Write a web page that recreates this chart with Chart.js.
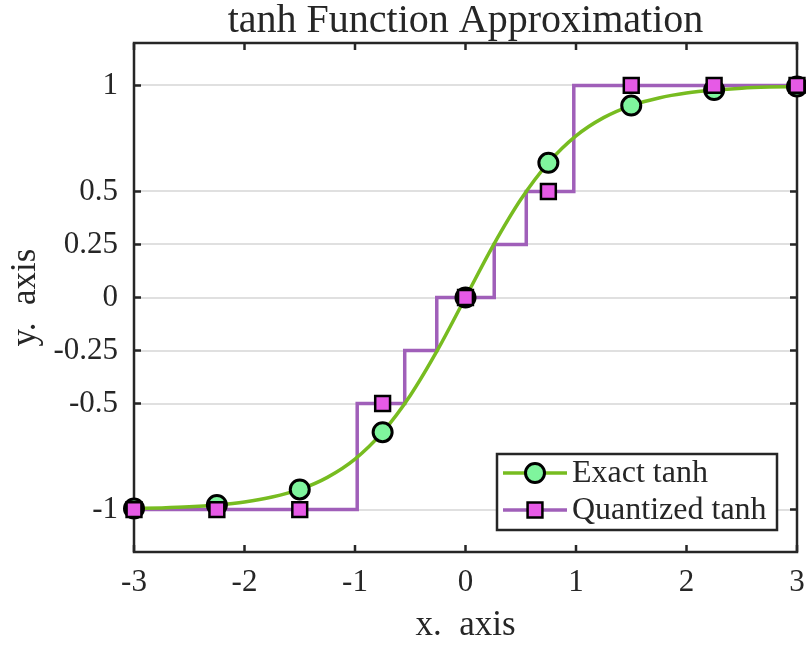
<!DOCTYPE html>
<html>
<head>
<meta charset="utf-8">
<title>tanh Function Approximation</title>
<script src="https://cdn.jsdelivr.net/npm/chart.js@4.4.0/dist/chart.umd.min.js"></script>
<style>
  html, body { margin: 0; padding: 0; background: #fff; }
  #chartCanvas { display: block; }
</style>
</head>
<body>
<canvas id="chartCanvas" width="806" height="645"></canvas>
<script>
// Smooth tanh curve samples
const curveX = [-3, -2.75, -2.5, -2.25, -2, -1.75, -1.5, -1.25, -1, -0.75, -0.5, -0.25, 0,
                0.25, 0.5, 0.75, 1, 1.25, 1.5, 1.75, 2, 2.25, 2.5, 2.75, 3];
const curveY = [-0.995, -0.992, -0.987, -0.978, -0.964, -0.941, -0.905, -0.848, -0.762, -0.635, -0.462, -0.245, 0,
                0.245, 0.462, 0.635, 0.762, 0.848, 0.905, 0.941, 0.964, 0.978, 0.987, 0.992, 0.995];

// Quantized staircase: each x starts a new level
const stepX = [-3, -0.98, -0.55, -0.26, 0.26, 0.55, 0.98, 3];
const stepY = [-1, -0.5, -0.25, 0, 0.25, 0.5, 1, 1];

// Marker positions
const markerX = [-3, -2.25, -1.5, -0.75, 0, 0.75, 1.5, 2.25, 3];
const exactMarkerY = [-0.995, -0.978, -0.905, -0.635, 0, 0.635, 0.905, 0.978, 0.995];
const quantMarkerY = [-1, -1, -1, -0.5, 0, 0.5, 1, 1, 1];

const yTickValues = [-1, -0.5, -0.25, 0, 0.25, 0.5, 1];
const seriesLabels = ['Exact tanh', 'Quantized tanh'];

const FONT = "'Liberation Serif', 'Times New Roman', serif";
const INK = '#262626';
const GREEN = '#77bc20';
const MINT = '#7ff59d';
const PURPLE = '#a05fb9';
const PINK = '#e65ae6';

const toPoints = (xs, ys) => xs.map((x, i) => ({ x: x, y: ys[i] }));

// Box around the plot with inward tick marks on all four sides
const framePlugin = {
    id: 'frame',
    beforeDatasetsDraw(chart) {
        const { ctx, chartArea: a, scales } = chart;
        const len = 7;
        ctx.save();
        ctx.strokeStyle = INK;
        ctx.lineWidth = 2.5;
        ctx.beginPath();
        scales.x.ticks.forEach(t => {
            const px = scales.x.getPixelForValue(t.value);
            ctx.moveTo(px, a.bottom); ctx.lineTo(px, a.bottom - len);
            ctx.moveTo(px, a.top); ctx.lineTo(px, a.top + len);
        });
        scales.y.ticks.forEach(t => {
            const py = scales.y.getPixelForValue(t.value);
            ctx.moveTo(a.left, py); ctx.lineTo(a.left + len, py);
            ctx.moveTo(a.right, py); ctx.lineTo(a.right - len, py);
        });
        ctx.stroke();
        ctx.strokeRect(a.left, a.top, a.right - a.left, a.bottom - a.top);
        ctx.restore();
    }
};

// Legend box in the lower right corner of the plot
const legendPlugin = {
    id: 'boxLegend',
    afterDraw(chart) {
        const { ctx, chartArea: a } = chart;
        const ds = chart.data.datasets;
        const w = 280, h = 76;
        const bx = a.right - 20 - w;
        const by = a.bottom - 22 - h;
        const entries = [
            { line: ds[3], marker: ds[1], text: seriesLabels[0] },
            { line: ds[2], marker: ds[0], text: seriesLabels[1] }
        ];
        ctx.save();
        ctx.fillStyle = '#fff';
        ctx.fillRect(bx, by, w, h);
        ctx.strokeStyle = INK;
        ctx.lineWidth = 2.5;
        ctx.strokeRect(bx, by, w, h);
        entries.forEach((e, i) => {
            const cy = by + 19 + i * 37;
            const mx = bx + 38;
            ctx.strokeStyle = e.line.borderColor;
            ctx.lineWidth = e.line.borderWidth;
            ctx.beginPath();
            ctx.moveTo(bx + 6, cy);
            ctx.lineTo(bx + 70, cy);
            ctx.stroke();
            ctx.fillStyle = e.marker.pointBackgroundColor;
            ctx.strokeStyle = e.marker.pointBorderColor;
            ctx.lineWidth = e.marker.pointBorderWidth;
            ctx.beginPath();
            if (e.marker.pointStyle === 'rect') {
                const s = e.marker.pointRadius * Math.SQRT1_2;
                ctx.rect(mx - s, cy - s, 2 * s, 2 * s);
            } else {
                ctx.arc(mx, cy, e.marker.pointRadius, 0, Math.PI * 2);
            }
            ctx.fill();
            ctx.stroke();
            ctx.fillStyle = INK;
            ctx.font = '32px ' + FONT;
            ctx.textAlign = 'left';
            ctx.textBaseline = 'middle';
            ctx.fillText(e.text, bx + 75, cy + 1);
        });
        ctx.restore();
    }
};

new Chart(document.getElementById('chartCanvas').getContext('2d'), {
    type: 'line',
    data: {
        datasets: [
            {
                label: seriesLabels[1] + ' markers',
                data: toPoints(markerX, quantMarkerY),
                showLine: false,
                pointStyle: 'rect',
                pointRadius: 10.5,
                pointBorderWidth: 2.5,
                pointBackgroundColor: PINK,
                pointBorderColor: '#000',
                clip: false,
                order: 0
            },
            {
                label: seriesLabels[0] + ' markers',
                data: toPoints(markerX, exactMarkerY),
                showLine: false,
                pointStyle: 'circle',
                pointRadius: 9.5,
                pointBorderWidth: 3,
                pointBackgroundColor: MINT,
                pointBorderColor: '#000',
                clip: false,
                order: 1
            },
            {
                label: seriesLabels[1],
                data: toPoints(stepX, stepY),
                stepped: true,
                borderColor: PURPLE,
                borderWidth: 3.5,
                pointRadius: 0,
                fill: false,
                order: 3
            },
            {
                label: seriesLabels[0],
                data: toPoints(curveX, curveY),
                borderColor: GREEN,
                borderWidth: 3.5,
                cubicInterpolationMode: 'monotone',
                pointRadius: 0,
                fill: false,
                order: 2
            }
        ]
    },
    options: {
        responsive: false,
        animation: false,
        layout: { autoPadding: false, padding: { left: 0, right: 9, top: 0, bottom: 0 } },
        scales: {
            x: {
                type: 'linear',
                min: -3,
                max: 3,
                // grid hidden, tickLength only spaces the labels away from the axis
                grid: { display: false, drawTicks: true, tickLength: 12 },
                border: { display: false },
                ticks: {
                    stepSize: 1,
                    padding: 0,
                    color: INK,
                    font: { family: FONT, size: 31 },
                    callback: v => String(v)
                },
                title: {
                    display: true,
                    text: 'x.  axis',
                    color: INK,
                    font: { family: FONT, size: 35 },
                    padding: { top: 0, bottom: -2 }
                },
                afterFit: scale => {
                    scale.height = 93;
                    scale.paddingLeft = 0;
                    scale.paddingRight = 0;
                }
            },
            y: {
                type: 'linear',
                min: -1.2,
                max: 1.2,
                afterBuildTicks: scale => {
                    scale.ticks = yTickValues.map(v => ({ value: v }));
                },
                grid: { color: '#e0e0e0', lineWidth: 2, drawTicks: false },
                border: { display: false },
                ticks: {
                    padding: 16,
                    color: INK,
                    font: { family: FONT, size: 31 },
                    callback: v => String(v)
                },
                title: {
                    display: true,
                    text: 'y.  axis',
                    color: INK,
                    font: { family: FONT, size: 35 },
                    padding: { top: 5, bottom: 0 }
                },
                afterFit: scale => { scale.width = 134; }
            }
        },
        plugins: {
            legend: { display: false },
            tooltip: { enabled: false },
            title: {
                display: true,
                fullSize: false,
                text: 'tanh Function Approximation',
                color: INK,
                font: { family: FONT, size: 40, weight: 'normal', lineHeight: 1.075 },
                padding: 0
            }
        }
    },
    plugins: [framePlugin, legendPlugin]
});
</script>
</body>
</html>
